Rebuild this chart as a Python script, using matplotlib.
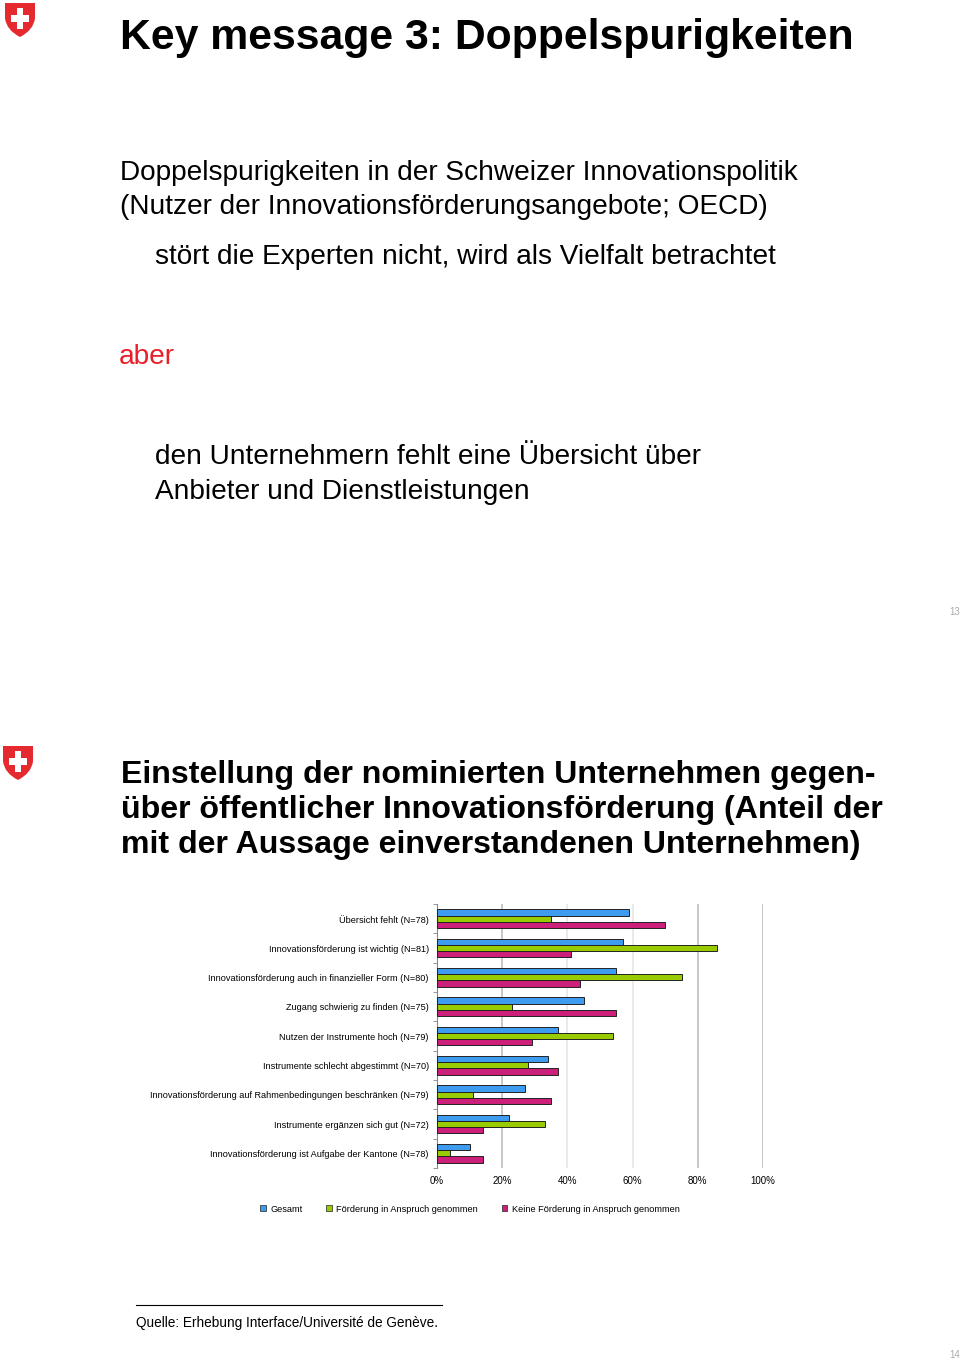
import matplotlib
matplotlib.use("Agg")
import matplotlib.pyplot as plt
import numpy as np
from matplotlib.patches import PathPatch, Rectangle
from matplotlib.path import Path

plt.rcParams['font.family'] = ['Liberation Sans', 'DejaVu Sans']

categories = [
    "Übersicht fehlt (N=78)",
    "Innovationsförderung ist wichtig (N=81)",
    "Innovationsförderung auch in finanzieller Form (N=80)",
    "Zugang schwierig zu finden (N=75)",
    "Nutzen der Instrumente hoch (N=79)",
    "Instrumente schlecht abgestimmt (N=70)",
    "Innovationsförderung auf Rahmenbedingungen beschränken (N=79)",
    "Instrumente ergänzen sich gut (N=72)",
    "Innovationsförderung ist Aufgabe der Kantone (N=78)",
]
gesamt = [59, 57, 55, 45, 37, 34, 27, 22, 10]
gefoerdert = [35, 86, 75, 23, 54, 28, 11, 33, 4]
nicht_gefoerdert = [70, 41, 44, 55, 29, 37, 35, 14, 14]
series_names = ["Gesamt", "Förderung in Anspruch genommen", "Keine Förderung in Anspruch genommen"]
colors = ["#3d9cf0", "#99cc00", "#cc1f7a"]
xticks = [0, 20, 40, 60, 80, 100]

W, H = 960, 1360
fig = plt.figure(figsize=(W / 100, H / 100), dpi=100)


def fy(y):
    return 1 - y / H


def fx(x):
    return x / W


def shield(x0, y0, w, h):
    # Schweizer Wappen, Pixelkoordinaten
    ax = fig.add_axes([fx(x0), fy(y0 + h), w / W, h / H])
    ax.set_xlim(0, 1)
    ax.set_ylim(0, 1)
    ax.axis("off")
    verts = [(0, 1), (1, 1), (1, 0.55), (0.95, 0.2), (0.5, 0.0), (0.05, 0.2), (0, 0.55), (0, 1)]
    codes = [Path.MOVETO, Path.LINETO, Path.LINETO, Path.CURVE3, Path.CURVE3, Path.CURVE3, Path.CURVE3, Path.CLOSEPOLY]
    ax.add_patch(PathPatch(Path(verts, codes), facecolor="#e52a2f", edgecolor="none"))
    ax.add_patch(Rectangle((0.39, 0.25), 0.22, 0.6, facecolor="white", edgecolor="none"))
    ax.add_patch(Rectangle((0.2, 0.44), 0.6, 0.22, facecolor="white", edgecolor="none"))


# Folie 13
shield(5, 3, 30, 34)
fig.text(fx(120), fy(38), "Key message 3: Doppelspurigkeiten", fontsize=30.8, fontweight="bold",
         va="center", ha="left")
body = 20.2
fig.text(fx(120), fy(173), "Doppelspurigkeiten in der Schweizer Innovationspolitik", fontsize=body,
         va="center", ha="left")
fig.text(fx(120), fy(207), "(Nutzer der Innovationsförderungsangebote; OECD)", fontsize=body,
         va="center", ha="left")
fig.text(fx(155), fy(257), "stört die Experten nicht, wird als Vielfalt betrachtet", fontsize=body,
         va="center", ha="left")
fig.text(fx(119), fy(357), "aber", fontsize=body, color="#e8202a", va="center", ha="left")
fig.text(fx(155), fy(457), "den Unternehmern fehlt eine Übersicht über", fontsize=body,
         va="center", ha="left")
fig.text(fx(155), fy(492), "Anbieter und Dienstleistungen", fontsize=body, va="center", ha="left")
fig.text(fx(960), fy(612), "13", fontsize=7, color="#aaaaaa", va="center", ha="right")

# Folie 14
shield(3, 746, 30, 34)
title2 = ["Einstellung der nominierten Unternehmen gegen-",
          "über öffentlicher Innovationsförderung (Anteil der",
          "mit der Aussage einverstandenen Unternehmen)"]
for i, line in enumerate(title2):
    fig.text(fx(121), fy(775 + 35 * i), line, fontsize=23.1, fontweight="bold", va="center", ha="left")
fig.text(fx(960), fy(1355), "14", fontsize=7, color="#aaaaaa", va="center", ha="right")

ax = fig.add_axes([fx(437), fy(1168), (763 - 437) / W, (1168 - 904) / H])
y = np.arange(len(categories))
bh = 0.21
for k, (vals, name, c) in enumerate(zip([gesamt, gefoerdert, nicht_gefoerdert], series_names, colors)):
    ax.barh(y + (k - 1) * bh, vals, height=bh, color=c, edgecolor="#222222", linewidth=0.7,
            label=name, zorder=3)
ax.set_xlim(0, 100)
ax.set_ylim(len(categories) - 0.5, -0.5)
ax.set_xticks(xticks)
ax.set_xticklabels([f"{t}%" for t in xticks], fontsize=7)
ax.set_yticks(y)
ax.set_yticklabels(categories, fontsize=6.6)
ax.set_yticks(np.arange(len(categories) + 1) - 0.5, minor=True)
ax.tick_params(axis="y", which="major", length=0, pad=6)
ax.tick_params(axis="y", which="minor", length=3, color="#888888")
ax.tick_params(axis="x", length=0, pad=6)
for t in xticks[1:]:
    gc = "#e6e6e6" if t in (40, 60) else "#bdbdbd"
    ax.axvline(t, color=gc, linewidth=1.2, zorder=1)
for s in ["top", "right", "bottom"]:
    ax.spines[s].set_visible(False)
ax.spines["left"].set_color("#888888")

leg = fig.legend(loc="center", bbox_to_anchor=(fx(470), fy(1209)), ncol=3, frameon=False,
                 fontsize=6.6, handlelength=0.6, handleheight=0.6, columnspacing=2.6, handletextpad=0.5)
for hnd in leg.legend_handles:
    hnd.set_linewidth(0.5)

# Quelle
fig.add_artist(plt.Line2D([fx(136), fx(442)], [fy(1305), fy(1305)], color="black", linewidth=0.8))
fig.text(fx(136), fy(1323), "Quelle: Erhebung Interface/Université de Genève.", fontsize=9.8,
         va="center", ha="left")

fig.savefig("out.png", dpi=100)
